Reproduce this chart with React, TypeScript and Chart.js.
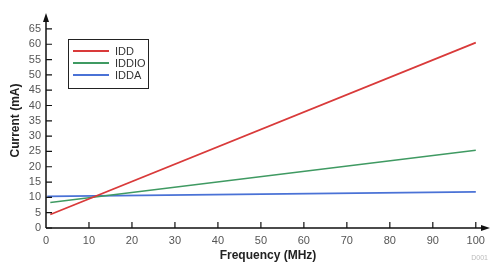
import React, { useEffect, useRef } from "react";
import { Chart, registerables } from "chart.js";

Chart.register(...registerables);

const seriesNames = ["IDD", "IDDIO", "IDDA"];
const seriesColors = ["#d93a3a", "#3f9a62", "#4a72d6"];
const freqPoints = [1, 100];
const iddValues = [4.4, 60.5];
const iddioValues = [8.3, 25.4];
const iddaPoints = [0.3, 100];
const iddaValues = [10.3, 11.8];
const xTickValues = [0, 10, 20, 30, 40, 50, 60, 70, 80, 90, 100];
const yTickValues = [0, 5, 10, 15, 20, 25, 30, 35, 40, 45, 50, 55, 60, 65];

const FONT = "'Liberation Sans', Arial, sans-serif";

const decorPlugin = {
  id: "decor",
  afterDatasetsDraw(chart: any) {
    const ctx = chart.ctx;
    const xs = chart.scales.x;
    const ys = chart.scales.y;
    const ca = chart.chartArea;
    const x0 = xs.getPixelForValue(0);
    const y0 = ys.getPixelForValue(0);
    ctx.save();
    ctx.strokeStyle = "#111";
    ctx.fillStyle = "#111";
    ctx.lineWidth = 1.5;
    ctx.beginPath();
    ctx.moveTo(x0, y0);
    ctx.lineTo(x0, ca.top + 6);
    ctx.moveTo(x0, y0);
    ctx.lineTo(ca.right - 6, y0);
    ctx.stroke();
    ctx.beginPath();
    ctx.moveTo(x0, ca.top);
    ctx.lineTo(x0 - 3, ca.top + 9);
    ctx.lineTo(x0 + 3, ca.top + 9);
    ctx.closePath();
    ctx.fill();
    ctx.beginPath();
    ctx.moveTo(ca.right, y0);
    ctx.lineTo(ca.right - 9, y0 - 3);
    ctx.lineTo(ca.right - 9, y0 + 3);
    ctx.closePath();
    ctx.fill();
    ctx.lineWidth = 1.2;
    ctx.beginPath();
    ys.ticks.forEach((t: any) => {
      const py = ys.getPixelForValue(t.value);
      ctx.moveTo(x0, py);
      ctx.lineTo(x0 + 6, py);
    });
    xs.ticks.forEach((t: any) => {
      if (t.value === 0) return;
      const px = xs.getPixelForValue(t.value);
      ctx.moveTo(px, y0);
      ctx.lineTo(px, y0 - 6);
    });
    ctx.stroke();
    const lx = 68, ly = 39, lw = 80, lh = 49;
    ctx.fillStyle = "#fff";
    ctx.fillRect(lx, ly, lw, lh);
    ctx.strokeStyle = "#222";
    ctx.lineWidth = 1;
    ctx.strokeRect(lx + 0.5, ly + 0.5, lw, lh);
    ctx.font = `11px ${FONT}`;
    ctx.textBaseline = "middle";
    chart.data.datasets.forEach((ds: any, i: number) => {
      const ry = ly + 12 + i * 12;
      ctx.strokeStyle = ds.borderColor;
      ctx.lineWidth = 1.8;
      ctx.beginPath();
      ctx.moveTo(lx + 5, ry);
      ctx.lineTo(lx + 41, ry);
      ctx.stroke();
      ctx.fillStyle = "#333";
      ctx.fillText(ds.label, lx + 47, ry + 0.5);
    });
    ctx.font = `7px ${FONT}`;
    ctx.fillStyle = "#bbb";
    ctx.textAlign = "right";
    ctx.fillText("D001", 488, 258);
    ctx.restore();
  },
};

export default function App() {
  const ref = useRef<HTMLCanvasElement>(null);
  useEffect(() => {
    document.body.style.margin = "0";
    const ctx = ref.current!;
    const toPts = (xsArr: number[], vs: number[]) => xsArr.map((x, i) => ({ x, y: vs[i] }));
    const chart = new Chart(ctx, {
      type: "line",
      data: {
        datasets: [
          { label: seriesNames[0], data: toPts(freqPoints, iddValues), borderColor: seriesColors[0], borderWidth: 1.8, pointRadius: 0 },
          { label: seriesNames[1], data: toPts(freqPoints, iddioValues), borderColor: seriesColors[1], borderWidth: 1.5, pointRadius: 0 },
          { label: seriesNames[2], data: toPts(iddaPoints, iddaValues), borderColor: seriesColors[2], borderWidth: 1.8, pointRadius: 0 },
        ],
      },
      options: {
        responsive: false,
        animation: false,
        layout: { padding: { top: 13, right: 1, left: 0, bottom: 0 } },
        plugins: { legend: { display: false }, tooltip: { enabled: false } },
        scales: {
          x: {
            type: "linear",
            min: 0,
            max: 103.3,
            afterBuildTicks: (s: any) => { s.ticks = xTickValues.map((v) => ({ value: v })); },
            afterFit: (s: any) => { s.height = 35; },
            grid: { display: false, drawTicks: false },
            border: { display: false },
            ticks: { autoSkip: false, padding: 6, color: "#555", font: { family: FONT, size: 11 }, maxRotation: 0 },
            title: { display: true, text: "Frequency (MHz)", color: "#222", font: { family: FONT, size: 12, weight: "bold" }, padding: { top: 0, bottom: 0 } },
          },
          y: {
            type: "linear",
            min: 0,
            max: 70.2,
            afterBuildTicks: (s: any) => { s.ticks = yTickValues.map((v) => ({ value: v })); },
            afterFit: (s: any) => { s.width = 46; },
            grid: { display: false, drawTicks: false },
            border: { display: false },
            ticks: { autoSkip: false, padding: 5, color: "#555", font: { family: FONT, size: 11 } },
            title: { display: true, text: "Current (mA)", color: "#222", font: { family: FONT, size: 12, weight: "bold" }, padding: { top: 8, bottom: 0 } },
          },
        },
      },
      plugins: [decorPlugin],
    } as any);
    return () => chart.destroy();
  }, []);
  return <canvas ref={ref} width={491} height={263} style={{ display: "block" }} />;
}
